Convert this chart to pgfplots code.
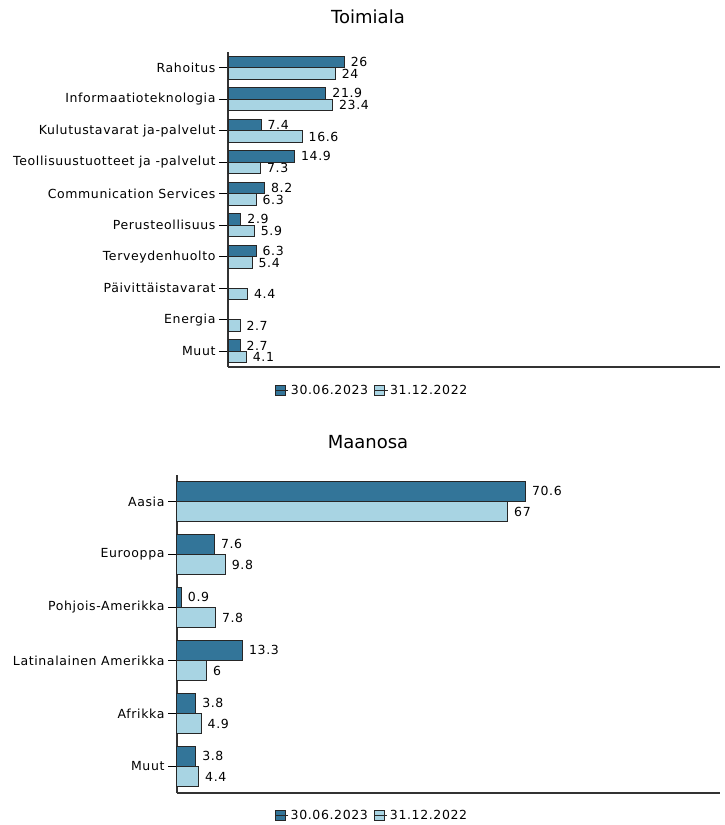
\documentclass[border=0pt]{standalone}
\usepackage{pgfplots}
\pgfplotsset{compat=1.18}
\usepackage{fontspec}
\setmainfont{DejaVu Sans}[LetterSpace=5]
\newfontfamily\titlefont{DejaVu Sans}
\definecolor{darkbar}{HTML}{337599}
\definecolor{lightbar}{HTML}{A8D4E3}
\newcommand\lbl{\fontsize{12.5}{15}\selectfont}

\pgfplotsset{
  hbars/.style={
    xbar, scale only axis, clip=false,
    xmin=0, xmax=110, xtick=\empty,
    axis x line=bottom, axis y line=left,
    axis line style={-, line width=1.2pt, draw=black!80},
    ytick pos=left, tick align=outside, major tick length=9pt,
    tick style={black, line width=0.8pt},
    tick label style={font=\lbl},
    nodes near coords,
    nodes near coords style={font=\lbl, anchor=west, inner sep=0pt, xshift=6pt},
    /pgf/number format/assume math mode=true,
    legend style={draw=none, legend columns=2, font=\lbl, anchor=center,
      /tikz/every even column/.append style={column sep=4pt}},
    legend image code/.code={\draw[#1] (0pt,-5pt) rectangle (10pt,5pt);
      \path (0pt,0pt) -- (13pt,0pt);},
  }
}

\begin{document}
\begin{tikzpicture}
\useasboundingbox (0,0) rectangle (724pt,825pt);

% Toimiala
\node[font=\titlefont\fontsize{18}{20}\selectfont] at (368pt,808pt) {Toimiala};
\begin{axis}[hbars, at={(228pt,458pt)}, anchor=south west,
    width=492pt, height=315pt, bar width=0.37,
    ymin=-0.5, ymax=9.5, ytick={0,...,9},
    yticklabels={Muut, Energia, Päivittäistavarat, Terveydenhuolto, Perusteollisuus,
      Communication Services, Teollisuustuotteet ja -palvelut,
      Kulutustavarat ja-palvelut, Informaatioteknologia, Rahoitus},
    legend style={at={(0.293,-0.076)}}]
\addplot[fill=darkbar, draw=black!85, line width=1pt, bar shift=0.185] coordinates {
  (26,9) (21.9,8) (7.4,7) (14.9,6) (8.2,5) (2.9,4) (6.3,3) (2.7,0)};
\addplot[fill=lightbar, draw=black!85, line width=1pt, bar shift=-0.185] coordinates {
  (24,9) (23.4,8) (16.6,7) (7.3,6) (6.3,5) (5.9,4) (5.4,3) (4.4,2) (2.7,1) (4.1,0)};
\legend{30.06.2023, 31.12.2022}
\end{axis}

% Maanosa
\node[font=\titlefont\fontsize{18}{20}\selectfont] at (368pt,383pt) {Maanosa};
\begin{axis}[hbars, at={(177pt,32pt)}, anchor=south west,
    width=543pt, height=318pt, bar width=0.38,
    ymin=-0.5, ymax=5.5, ytick={0,...,5},
    yticklabels={Muut, Afrikka, Latinalainen Amerikka, Pohjois-Amerikka, Eurooppa, Aasia},
    legend style={at={(0.359,-0.072)}}]
\addplot[fill=darkbar, draw=black!85, line width=1pt, bar shift=0.19] coordinates {
  (70.6,5) (7.6,4) (0.9,3) (13.3,2) (3.8,1) (3.8,0)};
\addplot[fill=lightbar, draw=black!85, line width=1pt, bar shift=-0.19] coordinates {
  (67,5) (9.8,4) (7.8,3) (6,2) (4.9,1) (4.4,0)};
\legend{30.06.2023, 31.12.2022}
\end{axis}
\end{tikzpicture}
\end{document}
